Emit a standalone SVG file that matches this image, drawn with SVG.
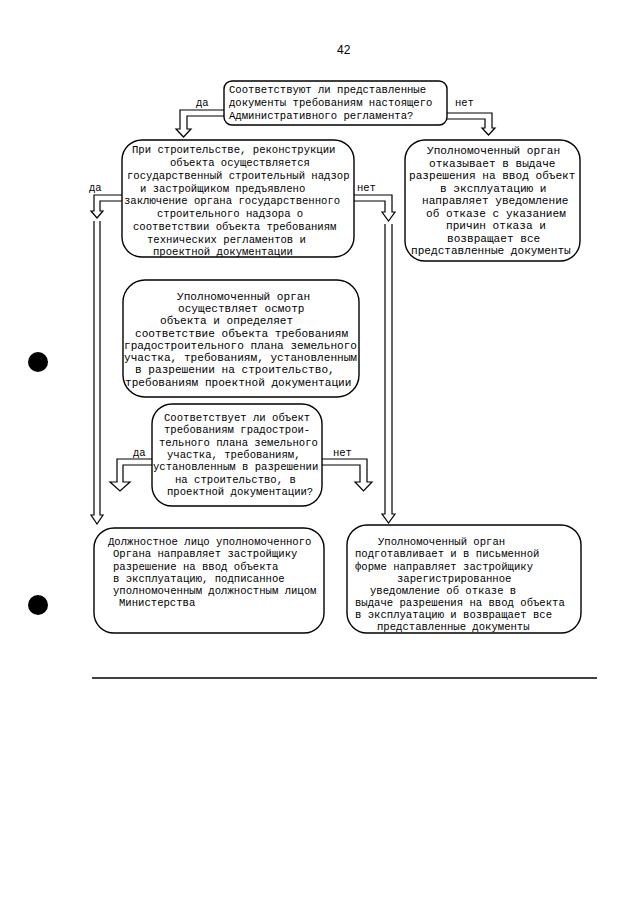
<svg xmlns="http://www.w3.org/2000/svg" width="640" height="905" viewBox="0 0 640 905">
<style>
.bx{fill:#fff;stroke:#000;stroke-width:1.4}
.ar{fill:#fff;stroke:#000;stroke-width:1.2}
.ao{fill:none;stroke:#000;stroke-width:1.2}
text{font-family:"Liberation Mono","DejaVu Sans Mono",monospace;fill:#000}
.t{font-size:10.6px}
.s{font-size:11.1px}
.lb{font-size:10.5px}
</style>
<rect width="640" height="905" fill="#fff"/>
<text x="337" y="54" style="font-family:'Liberation Sans',Arial,sans-serif;font-size:12px">42</text>
<circle cx="38" cy="362" r="10" fill="#000"/>
<circle cx="38" cy="605" r="10" fill="#000"/>
<line x1="92" y1="678" x2="597" y2="678" stroke="#000" stroke-width="1.6"/>

<g id="connectors">
<path class="ar" d="M224,110 H180 V129 H176 L183.5,137 L191,129 H187 V116 H224"/>
<path class="ar" d="M447,113 H492 V128 H495 L488.5,135 L482,128 H485 V119 H447"/>
<path class="ar" d="M122,195 H94 V211 H91 L97,218 L103,211 H100 V201 H122"/>
<path class="ar" d="M354,195 H392 V212 H395 L388.5,221 L382,212 H385 V201 H354"/>
<path class="ao" d="M94,221 V515 H91 L97,524 L103,515 H100 V221"/>
<path class="ao" d="M385,224 V514 H382 L388.5,523 L395,514 H392 V224"/>
<path class="ar" d="M152,459 H117 V482 H110 L120,491 L130,482 H123 V465 H152"/>
<path class="ar" d="M322,459 H367 V482 H372 L363.5,491 L355,482 H360 V465 H322"/>
<text class="lb" x="196" y="106">да</text>
<text class="lb" x="455" y="106">нет</text>
<text class="lb" x="89" y="191">да</text>
<text class="lb" x="357" y="191">нет</text>
<text class="lb" x="133" y="456">да</text>
<text class="lb" x="333" y="456">нет</text>
</g>

<g id="q1">
<rect class="bx" x="224" y="81" width="223" height="44" rx="8"/>
<text class="t" x="229" y="93">Соответствуют ли представленные</text>
<text class="t" x="229" y="106">документы требованиям настоящего</text>
<text class="t" x="229" y="119">Административного регламента?</text>
</g>

<g id="n2">
<rect class="bx" x="122" y="140" width="232" height="117" rx="20"/>
<text class="t" x="132" y="153">При строительстве, реконструкции</text>
<text class="t" x="170" y="166">объекта осуществляется</text>
<text class="t" x="127" y="179">государственный строительный надзор</text>
<text class="t" x="140" y="192">и застройщиком предъявлено</text>
<text class="t" x="124" y="204">заключение органа государственного</text>
<text class="t" x="157" y="217">строительного надзора о</text>
<text class="t" x="133" y="230">соответствии объекта требованиям</text>
<text class="t" x="147" y="243">технических регламентов и</text>
<text class="t" x="153" y="255">проектной документации</text>
</g>

<g id="n3">
<rect class="bx" x="405" y="140" width="175" height="121" rx="20"/>
<text class="s" x="427" y="154">Уполномоченный орган</text>
<text class="s" x="429" y="167">отказывает в выдаче</text>
<text class="s" x="409" y="179">разрешения на ввод объект</text>
<text class="s" x="440" y="192">в эксплуатацию и</text>
<text class="s" x="422" y="204">направляет уведомление</text>
<text class="s" x="426" y="217">об отказе с указанием</text>
<text class="s" x="446" y="229">причин отказа и</text>
<text class="s" x="447" y="242">возвращает все</text>
<text class="s" x="411" y="254">представленные документы</text>
</g>

<g id="n4">
<rect class="bx" x="123" y="280" width="236" height="117" rx="22"/>
<text class="s" x="177" y="300">Уполномоченный орган</text>
<text class="s" x="178" y="312">осуществляет осмотр</text>
<text class="s" x="160" y="324">объекта и определяет</text>
<text class="s" x="135" y="337">соответствие объекта требованиям</text>
<text class="s" x="124" y="349">градостроительного плана земельного</text>
<text class="s" x="124" y="361">участка, требованиям, установленным</text>
<text class="s" x="135" y="373">в разрешении на строительство,</text>
<text class="s" x="125" y="386">требованиям проектной документации</text>
</g>

<g id="q5">
<rect class="bx" x="152" y="404" width="170" height="102" rx="20"/>
<text class="t" x="164" y="421">Соответствует ли объект</text>
<text class="t" x="164" y="433">требованиям градострои-</text>
<text class="t" x="159" y="446">тельного плана земельного</text>
<text class="t" x="167" y="458">участка, требованиям,</text>
<text class="t" x="153" y="470">установленным в разрешении</text>
<text class="t" x="175" y="483">на строительство, в</text>
<text class="t" x="167" y="495">проектной документации?</text>
</g>

<g id="n6">
<rect class="bx" x="94" y="528" width="230" height="105" rx="20"/>
<text class="t" x="108" y="545">Должностное лицо уполномоченного</text>
<text class="t" x="113" y="557">Органа направляет застройщику</text>
<text class="t" x="113" y="570">разрешение на ввод объекта</text>
<text class="t" x="113" y="582">в эксплуатацию, подписанное</text>
<text class="t" x="113" y="594">уполномоченным должностным лицом</text>
<text class="t" x="119" y="606">Министерства</text>
</g>

<g id="n7">
<rect class="bx" x="347" y="525" width="234" height="108" rx="20"/>
<text class="t" x="378" y="545">Уполномоченный орган</text>
<text class="t" x="355" y="557">подготавливает и в письменной</text>
<text class="t" x="355" y="570">форме направляет застройщику</text>
<text class="t" x="397" y="582">зарегистрированное</text>
<text class="t" x="370" y="594">уведомление об отказе в</text>
<text class="t" x="355" y="606">выдаче разрешения на ввод объекта</text>
<text class="t" x="355" y="618">в эксплуатацию и возвращает все</text>
<text class="t" x="377" y="630">представленные документы</text>
</g>
</svg>
